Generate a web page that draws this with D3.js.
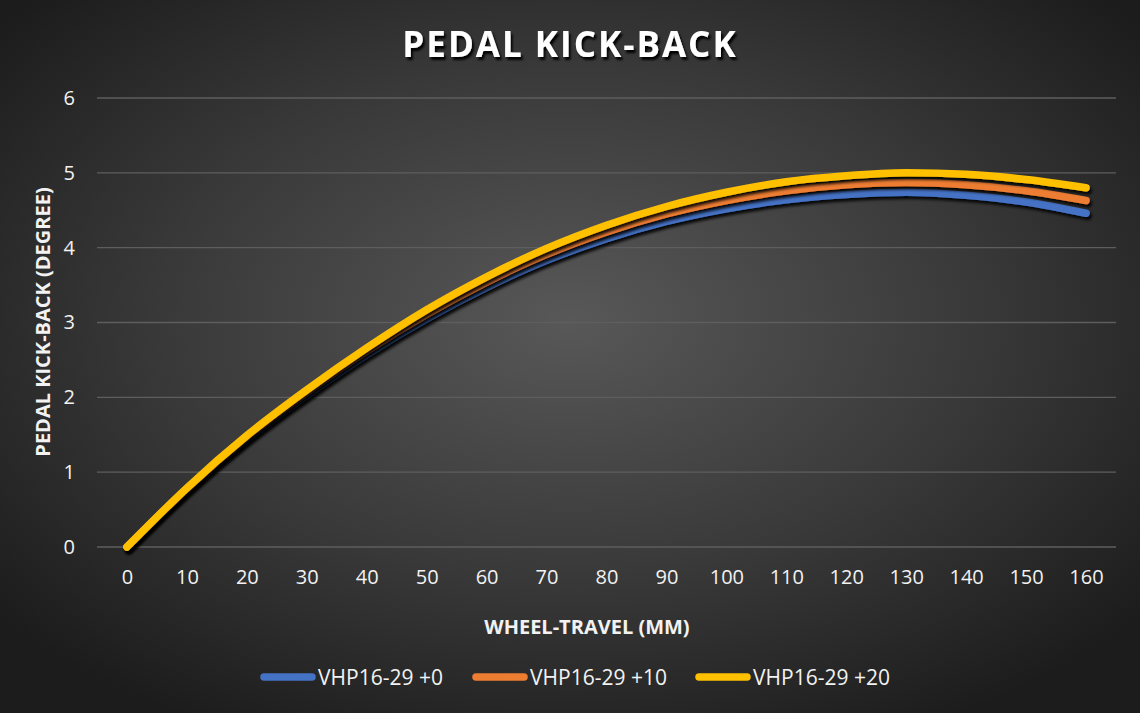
<!DOCTYPE html>
<html><head><meta charset="utf-8">
<script src="https://cdn.jsdelivr.net/npm/d3@7"></script>
<style>html,body{margin:0;padding:0;background:#2a2a2a;}svg{display:block;}</style>
</head><body>
<script>
const categories = [0,10,20,30,40,50,60,70,80,90,100,110,120,130,140,150,160];
const seriesNames = ["VHP16-29 +0","VHP16-29 +10","VHP16-29 +20"];
const blueValues   = [0,0.76,1.44,2.03,2.57,3.05,3.47,3.83,4.12,4.35,4.52,4.64,4.71,4.74,4.70,4.61,4.46];
const orangeValues = [0,0.78,1.47,2.07,2.62,3.11,3.54,3.91,4.21,4.45,4.63,4.76,4.84,4.87,4.84,4.76,4.63];
const yellowValues = [0,0.79,1.49,2.10,2.66,3.17,3.61,3.99,4.30,4.55,4.74,4.88,4.96,5.00,4.98,4.91,4.80];
const yTicks = [0,1,2,3,4,5,6];
const colors = ["#4472C4","#ED7D31","#FFC000"];

const W=1140,H=713;
const m={left:97,right:1116,top:98,bottom:547};
const svg=d3.select("body").append("svg").attr("width",W).attr("height",H);
const defs=svg.append("defs");
const rg=defs.append("radialGradient").attr("id","bg").attr("cx","0.5").attr("cy","0.45").attr("r","0.65");
rg.append("stop").attr("offset","0").attr("stop-color","#585858");
rg.append("stop").attr("offset","0.55").attr("stop-color","#393939");
rg.append("stop").attr("offset","1").attr("stop-color","#1c1c1c");
const f=defs.append("filter").attr("id","sh").attr("x","-10%").attr("y","-10%").attr("width","120%").attr("height","120%");
f.append("feDropShadow").attr("dx",2).attr("dy",3).attr("stdDeviation",1.5).attr("flood-color","#000").attr("flood-opacity",0.9);
const ft=defs.append("filter").attr("id","tsh").attr("x","-10%").attr("y","-20%").attr("width","120%").attr("height","160%");
ft.append("feDropShadow").attr("dx",2).attr("dy",3).attr("stdDeviation",1).attr("flood-color","#000").attr("flood-opacity",0.95);

svg.append("rect").attr("width",W).attr("height",H).attr("fill","url(#bg)");

const x=d3.scalePoint().domain(categories).range([m.left,m.right]).padding(0.5);
const y=d3.scaleLinear().domain([0,6]).range([m.bottom,m.top]);

// grid
svg.append("g").selectAll("line").data(yTicks).join("line")
 .attr("x1",m.left).attr("x2",m.right).attr("y1",d=>y(d)).attr("y2",d=>y(d))
 .attr("stroke","#5e5e5e").attr("stroke-width",1.3);

const font="'Open Sans', sans-serif";
// y axis
const ya=svg.append("g").attr("transform",`translate(${m.left},0)`)
 .call(d3.axisLeft(y).tickValues(yTicks).tickFormat(d3.format("d")).tickSize(0).tickPadding(22));
ya.select(".domain").remove();
ya.selectAll("text").attr("fill","#f2f2f2").style("font-family",font).style("font-size","20px");
// x axis
const xa=svg.append("g").attr("transform",`translate(0,${m.bottom})`)
 .call(d3.axisBottom(x).tickSize(0).tickPadding(23));
xa.select(".domain").remove();
xa.selectAll("text").attr("fill","#f2f2f2").style("font-family",font).style("font-size","20px");

// lines
const all=[blueValues,orangeValues,yellowValues];
const line=d3.line().x((d,i)=>x(categories[i])).y(d=>y(d)).curve(d3.curveMonotoneX);
svg.append("g").selectAll("path").data(all).join("path")
 .attr("d",d=>line(d)).attr("fill","none").attr("stroke",(d,i)=>colors[i])
 .attr("stroke-width",7.5).attr("stroke-linecap","round").attr("stroke-linejoin","round")
 .attr("filter","url(#sh)");

// title
svg.append("text").attr("x",570).attr("y",57).attr("text-anchor","middle")
 .attr("fill","#ffffff").attr("filter","url(#tsh)")
 .style("font-family",font).style("font-weight","700").style("font-size","35px").style("letter-spacing","2px")
 .text("PEDAL KICK-BACK");
// axis titles
svg.append("text").attr("transform","translate(50,322) rotate(-90)").attr("text-anchor","middle")
 .attr("fill","#f2f2f2").style("font-family",font).style("font-weight","700").style("font-size","20px")
 .text("PEDAL KICK-BACK (DEGREE)");
svg.append("text").attr("x",587).attr("y",634).attr("text-anchor","middle")
 .attr("fill","#f2f2f2").style("font-family",font).style("font-weight","700").style("font-size","20px")
 .text("WHEEL-TRAVEL (MM)");

// legend
const legX=[260,472,695];
const lg=svg.append("g").selectAll("g").data(seriesNames).join("g")
 .attr("transform",(d,i)=>`translate(${legX[i]},677)`);
lg.append("line").attr("x1",4).attr("x2",52).attr("y1",0).attr("y2",0)
 .attr("stroke",(d,i)=>colors[i]).attr("stroke-width",7.5).attr("stroke-linecap","round");
lg.append("text").attr("x",58).attr("y",8).attr("fill","#f2f2f2")
 .style("font-family",font).style("font-size","21px").text(d=>d);
</script>
</body></html>
